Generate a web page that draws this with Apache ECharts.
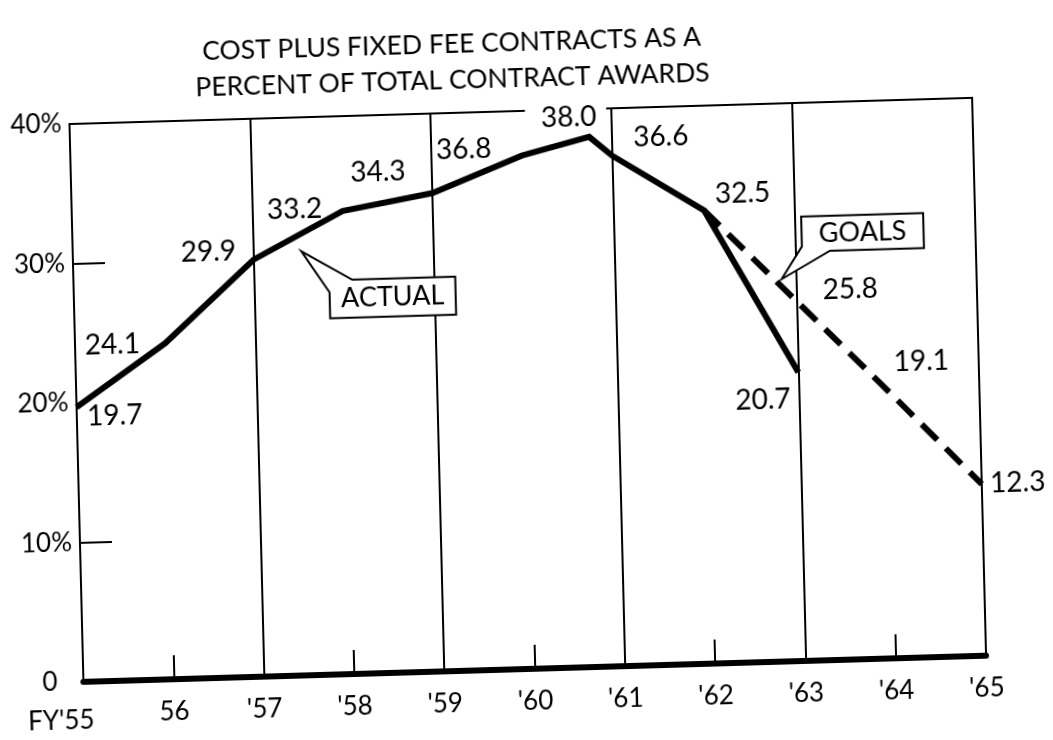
<!DOCTYPE html>
<html>
<head>
<meta charset="utf-8">
<script src="https://cdn.jsdelivr.net/npm/echarts@6/dist/echarts.min.js"></script>
<style>
  html, body { margin: 0; padding: 0; background: #fff; }
  #chart {
    width: 1053px; height: 740px;
    transform: matrix(1, -0.029, 0.025, 1, 0, 0);
    transform-origin: 50% 50%;
  }
</style>
</head>
<body>
<div id="chart"></div>
<script>
// ---- data ----
const titleLines = ['COST PLUS FIXED FEE CONTRACTS AS A', 'PERCENT OF TOTAL CONTRACT AWARDS'];
const yearTicks = [55, 56, 57, 58, 59, 60, 61, 62, 63, 64, 65];
const yearLabels = ["FY'55", "56", "'57", "'58", "'59", "'60", "'61", "'62", "'63", "'64", "'65"];
const percentTicks = [0, 10, 20, 30, 40];
const actualYears = [55, 56, 57, 58, 59, 60, 60.75, 61, 62, 63];
const actualValues = [19.7, 24.1, 29.9, 33.2, 34.3, 36.8, 38.0, 36.6, 32.5, 20.7];
const goalYears = [62, 63, 64, 65];
const goalValues = [32.5, 25.8, 19.1, 12.3];

// ---- label placement (pixel offsets from each point) ----
const actualLabelOffsets = [[38, 10], [-53, 0], [-45, -9], [-48, -3], [-54, -23], [-58, -8], [-23, -20], [49, -17], [39, -16], [-36, 27]];
const goalLabelOffsets = [null, [54, -10], [33, -30], [36, 0]];

// callout boxes: centre and pointer tip in axis units, box size in pixels
const callouts = [
  { text: 'ACTUAL', center: [58.53, 26.9], tip: [57.53, 30.4], w: 126, h: 38, notch: 'topLeft' },
  { text: 'GOALS', center: [63.75, 30.6], tip: [62.84, 27.4], w: 122, h: 35, notch: 'bottomLeft' }
];

const FONT = 'Lato, "DejaVu Sans", sans-serif';
const chart = echarts.init(document.getElementById('chart'), null, { renderer: 'canvas' });

const labelBase = { show: true, position: 'inside', color: '#000', fontFamily: FONT, fontSize: 28,
  formatter: p => p.value[1].toFixed(1) };

const actualData = actualYears.map((x, i) => {
  const item = { value: [x, actualValues[i]], label: { offset: actualLabelOffsets[i] } };
  if (actualValues[i] === Math.max(...actualValues)) {
    // the peak label sits in a gap of the top frame
    item.label.backgroundColor = '#fff';
    item.label.padding = [0, 10, 0, 16];
    item.label.lineHeight = 22;
  }
  return item;
});
const goalData = goalYears.map((x, i) => ({
  value: [x, goalValues[i]],
  label: goalLabelOffsets[i] ? { offset: goalLabelOffsets[i] } : { show: false }
}));

const gridBox = { left: 76, right: 74, top: 111, bottom: 71 };

chart.setOption({
  animation: false,
  backgroundColor: '#fff',
  title: {
    text: titleLines.join('\n'),
    left: 455, top: 19, textAlign: 'center',
    textStyle: { fontFamily: FONT, fontSize: 26.5, fontWeight: 'normal', lineHeight: 36, color: '#000' }
  },
  grid: Object.assign({ show: true, borderColor: '#000', borderWidth: 2, backgroundColor: 'transparent' }, gridBox),
  xAxis: [
    {
      type: 'value', min: 55, max: 65, interval: 1, gridIndex: 0,
      axisLine: { show: true, lineStyle: { color: '#000', width: 6 } },
      axisTick: { show: true, inside: true, length: 24, lineStyle: { color: '#000', width: 2 } },
      splitLine: { show: false },
      axisLabel: {
        margin: 20, color: '#000', fontFamily: FONT, fontSize: 26,
        formatter: v => {
          const s = yearLabels[yearTicks.indexOf(v)];
          return v === yearTicks[0] ? '{fy|' + s + '}' : s;
        },
        rich: { fy: { fontFamily: FONT, fontSize: 26, color: '#000', padding: [6, 46, 0, 0] } }
      }
    },
    {
      // full-height rules every second year
      type: 'value', min: 55, max: 65, interval: 2, gridIndex: 0, position: 'bottom',
      axisLine: { show: false }, axisTick: { show: false }, axisLabel: { show: false },
      splitLine: { show: true, lineStyle: { color: '#000', width: 2 } }
    }
  ],
  yAxis: {
    type: 'value', min: 0, max: 40, interval: 10,
    axisLine: { show: true, lineStyle: { color: '#000', width: 2 } },
    axisTick: { show: true, inside: true, length: 32, customValues: [10, 30], lineStyle: { color: '#000', width: 2 } },
    splitLine: { show: false },
    axisLabel: {
      margin: 8, color: '#000', fontFamily: FONT, fontSize: 26,
      formatter: v => (v === 0 ? '{z|0}' : v + '%'),
      rich: { z: { fontFamily: FONT, fontSize: 26, color: '#000', padding: [0, 18, 0, 0] } }
    }
  },
  series: [
    {
      name: 'Actual', type: 'line', xAxisIndex: 0, yAxisIndex: 0,
      data: actualData,
      symbol: 'circle', symbolSize: 1, showSymbol: true,
      itemStyle: { color: '#000' },
      lineStyle: { color: '#000', width: 6, cap: 'butt', join: 'miter' },
      label: labelBase, z: 3
    },
    {
      name: 'Goals', type: 'line', xAxisIndex: 0, yAxisIndex: 0,
      data: goalData,
      symbol: 'circle', symbolSize: 1, showSymbol: true,
      itemStyle: { color: '#000' },
      lineStyle: { color: '#000', width: 6, type: [22, 12], cap: 'butt', join: 'miter' },
      label: labelBase, z: 2
    }
  ]
});

// ---- callout boxes with pointers ----
function calloutGraphics(c) {
  const px = v => chart.convertToPixel({ xAxisIndex: 0, yAxisIndex: 0 }, v);
  const [cx, cy] = px(c.center);
  const tip = px(c.tip);
  const L = cx - c.w / 2, R = cx + c.w / 2, T = cy - c.h / 2, B = cy + c.h / 2;
  const pts = c.notch === 'topLeft'
    ? [tip, [L + 23, T], [R, T], [R, B], [L, B], [L, T + 12]]
    : [tip, [L, B - 5], [L, T], [R, T], [R, B], [L + 28, B]];
  return [
    { type: 'polygon', z: 100, shape: { points: pts },
      style: { fill: '#fff', stroke: '#000', lineWidth: 2 } },
    { type: 'text', z: 101, x: cx, y: cy,
      style: { text: c.text, fill: '#000', font: '27px ' + FONT, textAlign: 'center', textVerticalAlign: 'middle' } }
  ];
}
chart.setOption({ graphic: callouts.flatMap(calloutGraphics) });
</script>
</body>
</html>
